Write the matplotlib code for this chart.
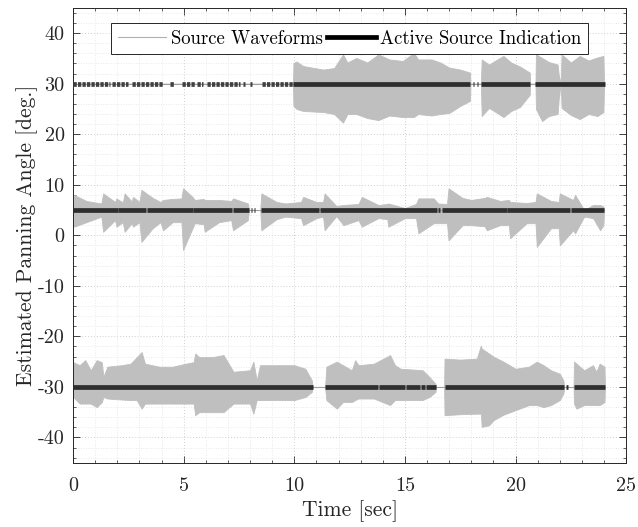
import numpy as np
import matplotlib
matplotlib.use("Agg")
import matplotlib.pyplot as plt
from matplotlib.lines import Line2D
from matplotlib.ticker import MultipleLocator

# ---------------- data ----------------
offsets = [30, 5, -30]

# Source 1 (offset 30): envelope (deviation from offset, degrees)
s1_t  = [0.0, 9.94, 9.96, 10.1, 10.4, 11.3, 11.8, 12.2, 12.4, 12.8, 13.3, 13.8, 14.3, 14.9, 15.4, 15.6, 16.2, 16.6, 17.0, 17.5, 17.94, 17.96,
         18.43, 18.47, 18.8, 19.1, 19.45, 19.8, 20.2, 20.64, 20.66,
         20.90, 20.92, 21.2, 21.5, 21.9, 21.95, 22.04, 22.08, 22.5, 22.9, 23.3, 23.7, 23.97, 24.0]
s1_up = [0.0, 0.0, 4.1, 4.4, 3.5, 2.8, 3.1, 5.8, 4.2, 5.1, 4.2, 5.8, 4.8, 4.5, 6.1, 4.8, 4.8, 4.2, 3.2, 2.8, 2.2, 0.0,
         0.0, 4.8, 3.8, 4.6, 5.5, 4.2, 3.4, 2.2, 0.0,
         0.0, 5.8, 5.1, 4.3, 3.8, 1.8, 0.0, 5.8, 4.2, 5.5, 4.6, 5.2, 5.5, 0.0]
s1_lo = [0.0, 0.0, 4.4, 5.0, 5.4, 5.6, 6.0, 7.7, 6.0, 6.0, 6.8, 7.2, 6.3, 6.6, 6.6, 6.0, 6.3, 6.0, 5.8, 4.4, 3.4, 0.0,
         0.0, 6.4, 4.8, 5.6, 6.6, 5.4, 4.6, 2.2, 0.0,
         0.0, 5.0, 7.4, 6.4, 6.0, 3.0, 0.0, 4.8, 6.2, 7.0, 6.0, 6.4, 5.6, 0.0]

# Source 2 (offset 5)
s2_t  = [0.0, 0.05, 0.6, 1.28, 1.36, 1.9, 1.96, 2.25, 2.33, 2.65, 2.71, 3.0, 3.09, 3.6, 3.95, 4.07, 4.5, 4.9, 4.97, 5.4, 5.5, 5.9, 5.95, 6.6, 7.15, 7.23, 7.9, 7.95,
         8.46, 8.51, 9.2, 9.6, 10.3, 10.4, 11.0, 11.3, 11.37, 11.9, 12.22, 12.9, 13.05, 13.8, 14.2, 14.25, 15.0, 15.5, 15.61, 16.3, 16.5, 16.9, 16.97,
         17.6, 18.0, 18.6, 18.7, 19.3, 19.7, 19.75, 20.5, 20.9, 20.96, 21.6, 21.95, 22.0, 22.6, 22.69, 23.1, 23.5, 23.82, 23.97, 24.0]
s2_up = [0.0, 3.0, 1.8, 1.3, 3.3, 1.6, 2.3, 1.5, 3.3, 1.7, 2.6, 1.6, 4.0, 2.4, 1.6, 2.0, 2.2, 2.3, 4.3, 2.6, 2.0, 2.2, 2.0, 2.0, 1.8, 2.3, 1.3, 0.0,
         0.0, 3.3, 1.6, 1.3, 1.6, 2.6, 1.6, 1.6, 3.3, 0.8, 1.0, 1.2, 2.6, 1.0, 1.2, 1.3, 0.4, 1.2, 2.3, 2.3, 1.3, 1.2, 4.3,
         2.4, 2.0, 2.4, 2.6, 1.8, 2.0, 1.6, 1.4, 1.6, 3.3, 1.8, 1.6, 3.3, 2.0, 3.0, 0.0, 1.0, 1.0, 0.7, 0.0]
s2_lo = [0.0, 3.3, 2.4, 1.3, 4.3, 2.0, 3.3, 2.4, 4.3, 2.6, 3.3, 2.4, 6.3, 3.6, 2.4, 4.0, 2.4, 2.4, 7.9, 3.6, 2.6, 2.8, 4.3, 2.4, 2.0, 4.0, 2.0, 0.0,
         0.0, 4.0, 1.8, 1.3, 1.6, 3.0, 1.6, 1.3, 4.0, 1.2, 3.0, 2.0, 3.3, 1.6, 1.8, 3.3, 1.6, 1.6, 4.6, 2.6, 2.6, 2.6, 6.0,
         3.0, 3.0, 3.2, 4.0, 3.0, 3.0, 5.6, 2.6, 2.6, 7.3, 3.6, 3.6, 7.0, 4.0, 4.6, 1.3, 1.6, 4.0, 3.0, 0.0]

# Source 3 (offset -30)
s3_t  = [0.0, 0.01, 0.3, 0.55, 0.8, 1.07, 1.3, 1.37, 1.55, 2.2, 2.6, 2.88, 3.1, 3.25, 3.9, 4.5, 5.1, 5.45, 5.52, 5.7, 6.3, 6.8, 7.25, 8.0, 8.15, 8.3, 8.45, 9.2, 10.0, 10.5, 10.79, 10.83,
         11.39, 11.45, 11.92, 12.2, 12.6, 12.75, 12.9, 13.6, 14.33, 14.55, 14.8, 15.8, 16.1, 16.38, 16.41,
         16.77, 16.79, 17.5, 18.25, 18.43, 18.47, 18.8, 19.0, 19.45, 20.0, 20.6, 20.96, 21.26, 21.6, 22.0, 22.16, 22.2,
         22.62, 22.64, 22.75, 23.1, 23.5, 23.65, 23.8, 24.02, 24.04]
s3_up = [0.0, 4.9, 4.3, 5.3, 3.3, 5.3, 4.9, 2.0, 4.0, 4.3, 4.6, 5.9, 6.9, 4.6, 4.0, 4.0, 4.6, 4.9, 6.6, 5.9, 5.9, 6.3, 3.0, 3.3, 5.0, 1.3, 4.3, 4.3, 4.3, 3.6, 1.3, 0.0,
         0.0, 4.0, 5.0, 4.3, 3.3, 5.3, 4.3, 4.6, 6.3, 4.3, 3.6, 3.3, 2.0, 0.6, 0.0,
         0.0, 5.6, 5.4, 5.6, 8.2, 7.6, 6.6, 6.0, 5.0, 3.6, 4.0, 5.0, 4.3, 3.3, 2.6, 1.3, 0.0,
         0.0, 5.0, 4.6, 3.3, 4.3, 3.0, 4.6, 4.0, 0.0]
s3_lo = [0.0, 2.0, 3.3, 3.3, 3.3, 4.0, 3.0, 2.0, 2.3, 2.5, 2.6, 2.6, 4.3, 3.3, 3.3, 3.3, 3.3, 3.3, 5.6, 5.0, 5.0, 5.0, 3.3, 3.3, 5.3, 2.6, 2.6, 2.6, 2.6, 2.0, 1.0, 0.0,
         0.0, 2.6, 4.3, 3.0, 3.0, 2.6, 2.3, 2.3, 3.6, 2.6, 2.6, 2.6, 2.0, 1.0, 0.0,
         0.0, 5.6, 5.4, 5.3, 5.3, 7.9, 7.6, 6.6, 5.5, 4.6, 3.6, 3.6, 4.0, 3.6, 2.6, 1.3, 0.0,
         0.0, 3.3, 4.3, 3.6, 3.6, 3.6, 3.6, 3.0, 0.0]

# Active source indication segments [start, end] (seconds)
act1 = [[0.01, 1.67], [1.75, 2.5], [2.65, 4.08], [4.39, 4.54], [4.91, 5.52], [5.59, 5.89], [6.04, 7.55],
        [7.69, 7.77], [7.99, 8.07], [8.53, 9.96], [9.96, 17.95], [18.06, 18.1], [18.24, 18.3],
        [18.42, 20.66], [20.88, 24.05]]
act1_sparse = 10  # first segments are intermittent detections
act2 = [[0.0, 2.02], [2.05, 3.3], [3.33, 5.41], [5.44, 7.19], [7.22, 7.95], [8.06, 8.1], [8.2, 8.24],
        [8.5, 11.13], [11.16, 16.44], [16.5, 16.6], [16.67, 19.6], [19.63, 22.45], [22.52, 24.0]]
act3 = [[0.0, 10.83], [11.39, 13.8], [13.83, 15.0], [15.03, 15.68], [15.72, 15.9], [15.94, 16.4],
        [16.79, 22.2], [22.3, 22.36], [22.64, 24.04]]

legend_labels = ["Source Waveforms", "Active Source Indication"]
xlabel = "Time [sec]"
ylabel = "Estimated Panning Angle [deg.]"
yticks = [-40, -30, -20, -10, 0, 10, 20, 30, 40]
xticks = [0, 5, 10, 15, 20, 25]

# ---------------- plotting ----------------
plt.rcParams['font.family'] = ['cmr10', 'DejaVu Serif']
plt.rcParams['axes.formatter.use_mathtext'] = True

fig = plt.figure(figsize=(6.38, 5.27), dpi=100)
ax = fig.add_axes([0.1145, 0.122, 0.867, 0.863])

wave_col = '#bfbfbf'
act_col = '#2e2e2e'

sources = [(s1_t, s1_up, s1_lo), (s2_t, s2_up, s2_lo), (s3_t, s3_up, s3_lo)]
for off, (t, up, lo) in zip(offsets, sources):
    t = np.asarray(t); up = np.asarray(up); lo = np.asarray(lo)
    ax.fill_between(t, off + up, off - lo, color=wave_col, lw=0.6, edgecolor=wave_col, zorder=2)
    ax.plot([t[0], t[-1]], [off, off], color='#a0a0a0', lw=0.8, zorder=2)

for off, segs in zip(offsets, [act1, act2, act3]):
    for i, (a, b) in enumerate(segs):
        if segs is act1 and i < act1_sparse:
            ax.plot([a, b], [off, off], color='#404040', lw=3.4, solid_capstyle='butt',
                    linestyle=(0, (0.7, 0.25)), zorder=3)
        else:
            ax.plot([a, b], [off, off], color=act_col, lw=3.4, solid_capstyle='butt', zorder=3)

ax.set_xlim(0, 25)
ax.set_ylim(-45, 45)
ax.set_xticks(xticks)
ax.set_xticklabels([str(v) for v in xticks])
ax.set_yticks(yticks)
ax.set_yticklabels([str(v) for v in yticks])
ax.xaxis.set_minor_locator(MultipleLocator(1))
ax.yaxis.set_minor_locator(MultipleLocator(2))
ax.tick_params(which='both', direction='in', top=True, right=True, labelsize=14.5, colors='#262626')
ax.tick_params(which='major', length=5, width=0.6)
ax.tick_params(which='minor', length=2.5, width=0.5)
ax.tick_params(axis='x', pad=10)
ax.tick_params(axis='y', pad=6)
ax.grid(True, which='major', linestyle=(0, (1, 2)), color='#cfcfcf', lw=0.7)
ax.grid(True, which='minor', linestyle=(0, (1, 2)), color='#e2e2e2', lw=0.6)
ax.set_axisbelow(True)
for sp in ax.spines.values():
    sp.set_color('#262626')
    sp.set_linewidth(0.7)

ax.set_xlabel(xlabel, fontsize=15.5, color='#262626', labelpad=4)
ax.set_ylabel(ylabel, fontsize=15.5, color='#262626', labelpad=0)

handles = [Line2D([], [], color='#b0b0b0', lw=0.8),
           Line2D([], [], color='black', lw=3.4)]
leg = ax.legend(handles, legend_labels, loc='upper center', bbox_to_anchor=(0.5, 0.975), ncol=2,
                fontsize=13.5, frameon=True, fancybox=False, edgecolor='#262626', framealpha=1,
                handlelength=2.6, handletextpad=0.25, columnspacing=0.2, borderpad=0.35,
                borderaxespad=0.2)
leg.get_frame().set_linewidth(0.7)

fig.savefig('out.png', dpi=100)
